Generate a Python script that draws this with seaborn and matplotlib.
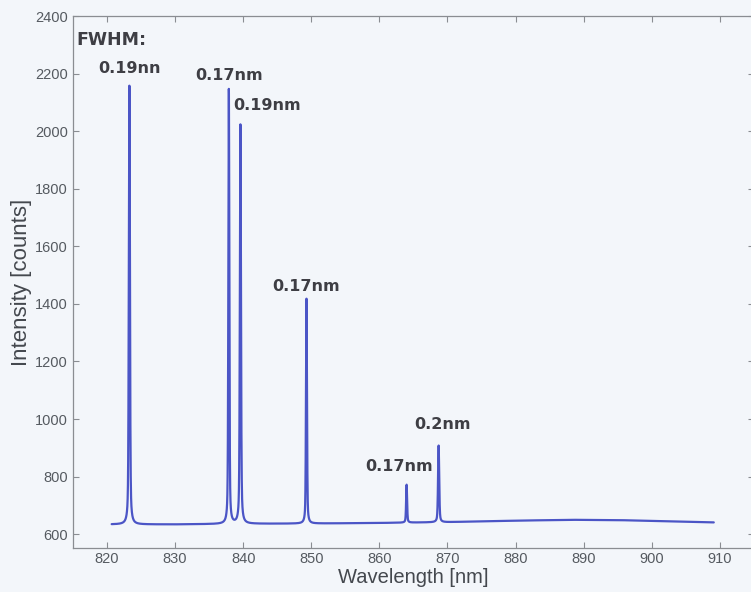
import numpy as np
import pandas as pd
import matplotlib
matplotlib.use("Agg")
import matplotlib.pyplot as plt
import seaborn as sns

# Emission lines: centre wavelength [nm], peak intensity [counts], FWHM [nm]
line_centers = [823.3, 837.9, 839.6, 849.3, 864.0, 868.7]
line_heights = [2158, 2145, 2022, 1418, 772, 908]
line_fwhm = [0.19, 0.17, 0.19, 0.17, 0.17, 0.20]
line_labels = ["0.19nn", "0.17nm", "0.19nm", "0.17nm", "0.17nm", "0.2nm"]

# Background level of the detector along the spectrum
baseline_wl = [820.7, 830.0, 840.0, 850.0, 860.0, 870.0, 880.0, 888.0, 895.0, 902.0, 909.1]
baseline_counts = [634, 634, 636, 637, 639, 642, 647, 650, 649, 645, 641]

x_ticks = [820, 830, 840, 850, 860, 870, 880, 890, 900, 910]
y_ticks = [600, 800, 1000, 1200, 1400, 1600, 1800, 2000, 2200, 2400]

# Build the spectrum: background plus pseudo-Voigt lines with the stated widths
wl = np.arange(baseline_wl[0], baseline_wl[-1], 0.005)
bg = np.interp(wl, baseline_wl, baseline_counts)
signal = bg.copy()
eta = 0.45  # Lorentzian fraction of the line profile
for c, h, w in zip(line_centers, line_heights, line_fwhm):
    bg_c = np.interp(c, baseline_wl, baseline_counts)
    g = w / 2.0
    lor = g**2 / ((wl - c) ** 2 + g**2)
    gau = np.exp(-4 * np.log(2) * (wl - c) ** 2 / w**2)
    signal += (h - bg_c) * (eta * lor + (1 - eta) * gau)
spec = pd.DataFrame({"Wavelength": wl, "Intensity": signal})

sns.set_style("ticks")
plt.rcParams["font.family"] = ["Liberation Sans", "DejaVu Sans"]

bg_color = "#f3f6fa"
fig = plt.figure(figsize=(7.51, 5.92), dpi=100, facecolor=bg_color)
ax = fig.add_axes([0.097, 0.0743, 0.907, 0.8986])
ax.set_facecolor(bg_color)

sns.lineplot(data=spec, x="Wavelength", y="Intensity", ax=ax,
             color="#4b55c6", linewidth=1.6, estimator=None, sort=False)

ax.set_xlim(815, 915)
ax.set_ylim(552, 2400)
ax.set_xticks(x_ticks)
ax.set_yticks(y_ticks)

for side in ["left", "bottom", "top", "right"]:
    ax.spines[side].set_visible(True)
    ax.spines[side].set_color("#8a8d92")
    ax.spines[side].set_linewidth(0.9)
ax.tick_params(direction="in", length=4, width=0.8, color="#8a8d92",
               labelsize=10.5, labelcolor="#555a60", top=True, right=True)
ax.tick_params(axis="x", pad=3)

ax.set_xlabel("Wavelength [nm]", fontsize=14.5, color="#44484e", labelpad=1)
ax.set_ylabel("Intensity [counts]", fontsize=16, color="#44484e", labelpad=2)

# FWHM annotations
bold = dict(fontweight="bold", color="#3e3e44", family=["DejaVu Sans"])
ax.text(815.5, 2318, "FWHM:", ha="left", va="center", fontsize=12.5, **bold)
label_pos = [(823.3, 2218, "center"), (837.9, 2193, "center"),
             (838.6, 2088, "left"), (849.3, 1460, "center"),
             (862.9, 834, "center"), (869.3, 980, "center")]
for (x, y, ha), txt in zip(label_pos, line_labels):
    ax.text(x, y, txt, ha=ha, va="center", fontsize=11.5, **bold)

fig.savefig("out.png", dpi=100, facecolor=bg_color)
